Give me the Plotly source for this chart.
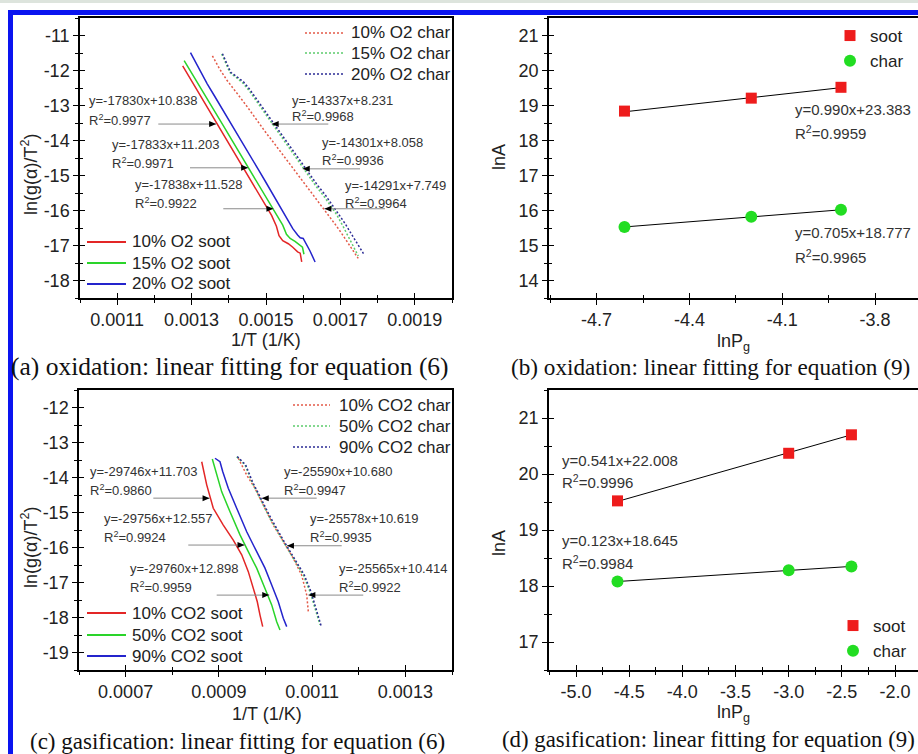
import plotly.graph_objects as go

W, H = 918, 754

# ---------------- (a) oxidation: ln(g(a)/T^2) vs 1/T ----------------
a_s10_x = [0.001276, 0.001290, 0.001305, 0.001322, 0.001340, 0.001360, 0.001380, 0.001400, 0.001420, 0.001440, 0.001460,
           0.001480, 0.001500, 0.001515, 0.001528, 0.001535, 0.001545, 0.001560, 0.001572, 0.001585, 0.001592, 0.001596]
a_s10_y = [-11.87, -12.12, -12.38, -12.70, -13.02, -13.38, -13.74, -14.10, -14.44, -14.80, -15.15,
           -15.50, -15.86, -16.14, -16.45, -16.72, -16.86, -16.95, -17.05, -17.18, -17.22, -17.47]
a_s15_x = [0.001280, 0.001295, 0.001312, 0.001330, 0.001350, 0.001370, 0.001390, 0.001410, 0.001430, 0.001450, 0.001470,
           0.001490, 0.001510, 0.001530, 0.001545, 0.001555, 0.001565, 0.001578, 0.001590, 0.001598, 0.001602]
a_s15_y = [-11.72, -11.98, -12.28, -12.60, -12.95, -13.30, -13.66, -14.02, -14.37, -14.72, -15.07,
           -15.42, -15.77, -16.12, -16.42, -16.68, -16.80, -16.88, -16.98, -17.05, -17.25]
a_s20_x = [0.001297, 0.001310, 0.001325, 0.001342, 0.001360, 0.001380, 0.001400, 0.001420, 0.001440, 0.001460, 0.001480,
           0.001500, 0.001520, 0.001540, 0.001558, 0.001572, 0.001585, 0.001592, 0.001600, 0.001608, 0.001618, 0.001632]
a_s20_y = [-11.49, -11.75, -12.05, -12.38, -12.70, -13.05, -13.41, -13.77, -14.12, -14.48, -14.84,
           -15.20, -15.56, -15.92, -16.25, -16.52, -16.70, -16.78, -16.80, -16.95, -17.15, -17.47]
a_c10_x = [0.001356, 0.001375, 0.001395, 0.001418, 0.001440, 0.001462, 0.001480, 0.001500, 0.001522, 0.001545, 0.001565,
           0.001585, 0.001605, 0.001625, 0.001645, 0.001665, 0.001685, 0.001705, 0.001722, 0.001738, 0.001748]
a_c10_y = [-11.58, -11.95, -12.28, -12.58, -12.90, -13.22, -13.50, -13.78, -14.08, -14.40, -14.70,
           -14.98, -15.25, -15.52, -15.80, -16.08, -16.38, -16.68, -16.95, -17.20, -17.37]
a_c15_x = [0.001381, 0.001392, 0.001403, 0.001420, 0.001438, 0.001455, 0.001472, 0.001490, 0.001508, 0.001525, 0.001545,
           0.001565, 0.001583, 0.001600, 0.001618, 0.001636, 0.001655, 0.001672, 0.001690, 0.001707, 0.001722, 0.001736, 0.001748]
a_c15_y = [-11.53, -11.80, -12.06, -12.20, -12.36, -12.58, -12.84, -13.10, -13.38, -13.66, -13.95,
           -14.25, -14.53, -14.81, -15.08, -15.33, -15.58, -15.85, -16.12, -16.45, -16.78, -17.05, -17.30]
a_c20_x = [0.001383, 0.001394, 0.001405, 0.001422, 0.001440, 0.001457, 0.001474, 0.001492, 0.001510, 0.001528, 0.001548,
           0.001568, 0.001586, 0.001603, 0.001621, 0.001640, 0.001659, 0.001677, 0.001695, 0.001713, 0.001730, 0.001746, 0.001762]
a_c20_y = [-11.52, -11.80, -12.05, -12.18, -12.33, -12.55, -12.80, -13.06, -13.34, -13.62, -13.92,
           -14.22, -14.50, -14.77, -15.04, -15.30, -15.55, -15.82, -16.08, -16.38, -16.68, -16.95, -17.23]
a_names = ["10% O2 soot", "15% O2 soot", "20% O2 soot", "10% O2 char", "15% O2 char", "20% O2 char"]
a_fits = [("y=-17830x+10.838", "R<sup>2</sup>=0.9977"), ("y=-17833x+11.203", "R<sup>2</sup>=0.9971"),
          ("y=-17838x+11.528", "R<sup>2</sup>=0.9922"), ("y=-14337x+8.231", "R<sup>2</sup>=0.9968"),
          ("y=-14301x+8.058", "R<sup>2</sup>=0.9936"), ("y=-14291x+7.749", "R<sup>2</sup>=0.9964")]
a_xticks = [0.0011, 0.0013, 0.0015, 0.0017, 0.0019]
a_xlabels = ["0.0011", "0.0013", "0.0015", "0.0017", "0.0019"]
a_yticks = [-11, -12, -13, -14, -15, -16, -17, -18]
a_ylabels = ["-11", "-12", "-13", "-14", "-15", "-16", "-17", "-18"]

# ---------------- (b) oxidation: lnA vs lnPg ----------------
b_x = [-4.61, -4.20, -3.91]
b_soot = [18.84, 19.21, 19.52]
b_char = [15.53, 15.82, 16.02]
b_soot_fit = [18.82, 19.51]
b_char_fit = [15.53, 16.02]
b_fits = [("y=0.990x+23.383", "R<sup>2</sup>=0.9959"), ("y=0.705x+18.777", "R<sup>2</sup>=0.9965")]
b_xticks = [-4.7, -4.4, -4.1, -3.8]
b_xlabels = ["-4.7", "-4.4", "-4.1", "-3.8"]
b_yticks = [14, 15, 16, 17, 18, 19, 20, 21]
b_ylabels = ["14", "15", "16", "17", "18", "19", "20", "21"]

# ---------------- (c) gasification: ln(g(a)/T^2) vs 1/T ----------------
c_s10_x = [0.0008632, 0.0008739, 0.0008880, 0.0009095, 0.0009309, 0.0009490, 0.0009631, 0.0009738, 0.0009824, 0.0009882, 0.0009940]
c_s10_y = [-13.55, -14.21, -14.88, -15.36, -15.79, -16.21, -16.69, -17.17, -17.55, -17.93, -18.26]
c_s50_x = [0.0008859, 0.0008953, 0.0009061, 0.0009239, 0.0009453, 0.0009631, 0.0009811, 0.0009989, 0.0010133, 0.0010240, 0.0010311]
c_s50_y = [-13.47, -13.93, -14.41, -14.98, -15.64, -16.12, -16.59, -17.17, -17.64, -18.12, -18.36]
c_s90_x = [0.0008917, 0.0009024, 0.0009082, 0.0009202, 0.0009382, 0.0009597, 0.0009811, 0.0009989, 0.0010133, 0.0010274, 0.0010382, 0.0010455]
c_s90_y = [-13.45, -13.55, -13.83, -14.31, -14.88, -15.55, -16.12, -16.59, -17.07, -17.55, -18.02, -18.26]
c_c10_x = [0.0009417, 0.0009597, 0.0009775, 0.0009953, 0.0010167, 0.0010382, 0.0010596, 0.0010776, 0.0010884, 0.0010918]
c_c10_y = [-13.45, -13.93, -14.31, -14.79, -15.36, -15.83, -16.31, -16.79, -17.36, -17.83]
c_c50_x = [0.0009382, 0.0009560, 0.0009704, 0.0009882, 0.0010097, 0.0010382, 0.0010596, 0.0010811, 0.0010954, 0.0011062, 0.0011169]
c_c50_y = [-13.41, -13.64, -14.12, -14.59, -15.17, -15.83, -16.31, -16.79, -17.26, -17.74, -18.21]
c_c90_x = [0.0009395, 0.0009575, 0.0009720, 0.0009900, 0.0010115, 0.0010400, 0.0010615, 0.0010830, 0.0010975, 0.0011085, 0.0011195]
c_c90_y = [-13.40, -13.64, -14.12, -14.59, -15.16, -15.83, -16.30, -16.78, -17.26, -17.73, -18.25]
c_names = ["10% CO2 soot", "50% CO2 soot", "90% CO2 soot", "10% CO2 char", "50% CO2 char", "90% CO2 char"]
c_fits = [("y=-29746x+11.703", "R<sup>2</sup>=0.9860"), ("y=-29756x+12.557", "R<sup>2</sup>=0.9924"),
          ("y=-29760x+12.898", "R<sup>2</sup>=0.9959"), ("y=-25590x+10.680", "R<sup>2</sup>=0.9947"),
          ("y=-25578x+10.619", "R<sup>2</sup>=0.9935"), ("y=-25565x+10.414", "R<sup>2</sup>=0.9922")]
c_xticks = [0.0007, 0.0009, 0.0011, 0.0013]
c_xlabels = ["0.0007", "0.0009", "0.0011", "0.0013"]
c_yticks = [-12, -13, -14, -15, -16, -17, -18, -19]
c_ylabels = ["-12", "-13", "-14", "-15", "-16", "-17", "-18", "-19"]

# ---------------- (d) gasification: lnA vs lnPg ----------------
d_x = [-4.61, -3.00, -2.41]
d_soot = [19.52, 20.37, 20.70]
d_char = [18.08, 18.28, 18.35]
d_soot_fit = [19.51, 20.70]
d_char_fit = [18.08, 18.35]
d_fits = [("y=0.541x+22.008", "R<sup>2</sup>=0.9996"), ("y=0.123x+18.645", "R<sup>2</sup>=0.9984")]
d_xticks = [-5.0, -4.5, -4.0, -3.5, -3.0, -2.5, -2.0]
d_xlabels = ["-5.0", "-4.5", "-4.0", "-3.5", "-3.0", "-2.5", "-2.0"]
d_yticks = [17, 18, 19, 20, 21]
d_ylabels = ["17", "18", "19", "20", "21"]

captions = ["(a) oxidation: linear fitting for equation (6)", "(b) oxidation: linear fitting for equation (9)",
            "(c) gasification: linear fitting for equation (6)", "(d) gasification: linear fitting for equation (9)"]

# ---------------- styling ----------------
SANS = "Liberation Sans, Arial, sans-serif"
SERIF = "Liberation Serif, Times New Roman, serif"
RED, GREEN, BLUE = "#e32626", "#2ad42a", "#2424cc"
RED_C, GREEN_C, BLUE_C = "#e35a48", "#5ccc6c", "#2d2d95"
DOT = "2px,2px"


def px(x):
    return x / W


def py(y):
    return 1 - y / H


fig = go.Figure()

# (a) curves
for xs, ys, col, dash in [(a_s10_x, a_s10_y, RED, "solid"), (a_s15_x, a_s15_y, GREEN, "solid"),
                          (a_s20_x, a_s20_y, BLUE, "solid"), (a_c10_x, a_c10_y, RED_C, DOT),
                          (a_c15_x, a_c15_y, GREEN_C, DOT), (a_c20_x, a_c20_y, BLUE_C, DOT)]:
    fig.add_trace(go.Scatter(x=xs, y=ys, mode="lines", line=dict(color=col, width=1.5, dash=dash),
                             xaxis="x", yaxis="y", showlegend=False))
# (c) curves
for xs, ys, col, dash in [(c_s10_x, c_s10_y, RED, "solid"), (c_s50_x, c_s50_y, GREEN, "solid"),
                          (c_s90_x, c_s90_y, BLUE, "solid"), (c_c10_x, c_c10_y, RED_C, DOT),
                          (c_c50_x, c_c50_y, GREEN_C, DOT), (c_c90_x, c_c90_y, BLUE_C, DOT)]:
    fig.add_trace(go.Scatter(x=xs, y=ys, mode="lines", line=dict(color=col, width=1.5, dash=dash),
                             xaxis="x3", yaxis="y3", showlegend=False))

# (b) and (d) points + fit lines
for xs, soot, char, sfit, cfit, xa, ya, leg in [(b_x, b_soot, b_char, b_soot_fit, b_char_fit, "x2", "y2", "legend"),
                                                (d_x, d_soot, d_char, d_soot_fit, d_char_fit, "x4", "y4", "legend2")]:
    fig.add_trace(go.Scatter(x=[xs[0], xs[-1]], y=sfit, mode="lines", line=dict(color="black", width=1),
                             xaxis=xa, yaxis=ya, showlegend=False))
    fig.add_trace(go.Scatter(x=[xs[0], xs[-1]], y=cfit, mode="lines", line=dict(color="black", width=1),
                             xaxis=xa, yaxis=ya, showlegend=False))
    fig.add_trace(go.Scatter(x=xs, y=soot, mode="markers", name="soot",
                             marker=dict(symbol="square", size=11, color="#ee1c1c", line=dict(width=0)),
                             xaxis=xa, yaxis=ya, legend=leg))
    fig.add_trace(go.Scatter(x=xs, y=char, mode="markers", name="char",
                             marker=dict(symbol="circle", size=12, color="#22dd22", line=dict(width=0)),
                             xaxis=xa, yaxis=ya, legend=leg))

# empty traces for the overlay (inner tick) axes
for n in range(5, 9):
    fig.add_trace(go.Scatter(x=[None], y=[None], xaxis=f"x{n}", yaxis=f"y{n}", showlegend=False, hoverinfo="skip"))

tickfont = dict(family=SANS, size=18, color="#222")


def set_axes(n, xdom, ydom, xr, yr, xt, xl, yt, yl, xminor, yminor, ymirror):
    ref = "" if n == 1 else str(n)
    base = dict(showgrid=False, zeroline=False, tickcolor="black", tickwidth=1.3, ticklen=5, tickmode="array")
    mx = dict(ticks="outside", ticklen=3, tickwidth=1.1, tickcolor="black", tickmode="linear",
              tick0=xminor[0], dtick=xminor[1])
    my = dict(ticks="outside", ticklen=3, tickwidth=1.1, tickcolor="black", tickmode="linear",
              tick0=yminor[0], dtick=yminor[1])
    fig.layout[f"xaxis{n}"] = dict(base, domain=xdom, range=xr, anchor=f"y{ref}", showline=True, linecolor="black",
                                   linewidth=1.5, mirror=True, ticks="outside", tickvals=xt, ticktext=xl,
                                   tickfont=tickfont, minor=mx)
    fig.layout[f"yaxis{n}"] = dict(base, domain=ydom, range=yr, anchor=f"x{ref}", showline=True, linecolor="black",
                                   linewidth=1.5, mirror=ymirror, ticks="outside", tickvals=yt, ticktext=yl,
                                   tickfont=tickfont, minor=my)
    m = n + 4
    fig.layout[f"xaxis{m}"] = dict(base, domain=xdom, range=xr, anchor=f"y{m}", overlaying=f"x{ref}",
                                   showline=False, ticks="inside", tickvals=xt, showticklabels=False,
                                   minor=dict(mx, ticks="inside"))
    fig.layout[f"yaxis{m}"] = dict(base, domain=ydom, range=yr, anchor=f"x{m}", overlaying=f"y{ref}",
                                   showline=False, ticks="inside", tickvals=yt, showticklabels=False,
                                   minor=dict(my, ticks="inside"))


top_y = [py(298), py(18)]
bot_y = [py(670), py(390)]
left_x = [px(80), px(452)]
right_x = [px(549), 1.0]

set_axes(1, left_x, top_y, [0.001, 0.002], [-18.5, -10.5], a_xticks, a_xlabels, a_yticks, a_ylabels,
         (0.001, 0.0001), (-11, 0.5), True)
set_axes(2, right_x, top_y, [-4.854, -3.661], [13.5, 21.5], b_xticks, b_xlabels, b_yticks, b_ylabels,
         (-4.7, 0.15), (14, 0.5), False)
set_axes(3, [px(79), px(452)], bot_y, [0.0006, 0.0014], [-19.5, -11.5], c_xticks, c_xlabels, c_yticks, c_ylabels,
         (0.0006, 0.0001), (-12, 0.5), True)
set_axes(4, right_x, bot_y, [-5.254, -1.784], [16.5, 21.5], d_xticks, d_xlabels, d_yticks, d_ylabels,
         (-5.0, 0.25), (17, 0.5), False)

ann = []
shapes = []


def text(x, y, s, xref="paper", yref="paper", size=13, family=SANS, xanchor="left", angle=0, color="#333"):
    ann.append(dict(x=x, y=y, xref=xref, yref=yref, text=s, showarrow=False, xanchor=xanchor, yanchor="middle",
                    textangle=angle, font=dict(family=family, size=size, color=color)))


def arrow(tail_x, head_x, y, xa, ya):
    shapes.append(dict(type="line", xref=xa, yref=ya, x0=tail_x, x1=head_x, y0=y, y1=y,
                       line=dict(color="#8a8a8a", width=1)))
    head = "M0,0 L-7,3 L-7,-3 Z" if tail_x < head_x else "M0,0 L7,3 L7,-3 Z"
    shapes.append(dict(type="path", xref=xa, yref=ya, xsizemode="pixel", ysizemode="pixel",
                       xanchor=head_x, yanchor=y, path=head, fillcolor="black", line=dict(width=0)))


# (a) fit annotations
a_text_pos = [(0.0010180, -12.87, -13.41), (0.0010806, -14.10, -14.65), (0.0011433, -15.26, -15.79),
              (0.0015645, -12.85, -13.29), (0.0016452, -14.05, -14.57), (0.0017078, -15.29, -15.79)]
for (l1, l2), (x, y1, y2) in zip(a_fits, a_text_pos):
    text(x, y1, l1, "x", "y")
    text(x, y2, l2, "x", "y")
for tx, hx, y in [(0.0012105, 0.001366, -13.53), (0.0012957, 0.001452, -14.78), (0.0013852, 0.001520, -15.95),
                  (0.0016675, 0.0015153, -13.53), (0.0017527, 0.0015987, -14.81), (0.0018199, 0.0016570, -15.95)]:
    arrow(tx, hx, y, "x", "y")

# (c) fit annotations
c_text_pos = [(0.0006193, -13.83, -14.36), (0.0006487, -15.17, -15.71), (0.0007057, -16.61, -17.14),
              (0.0010347, -13.83, -14.36), (0.0010918, -15.17, -15.71), (0.0011527, -16.61, -17.14)]
for (l1, l2), (x, y1, y2) in zip(c_fits, c_text_pos):
    text(x, y1, l1, "x3", "y3")
    text(x, y2, l2, "x3", "y3")
for tx, hx, y in [(0.0007594, 0.000880, -14.59), (0.0008344, 0.000955, -15.93), (0.0008953, 0.001008, -17.36),
                  (0.0011098, 0.000992, -14.59), (0.0011634, 0.001046, -15.95), (0.0012097, 0.001092, -17.36)]:
    arrow(tx, hx, y, "x3", "y3")

# (b), (d) fit annotations
for (l1, l2), (x, y1, y2) in zip(b_fits, [(-4.064, 18.89, 18.22), (-4.064, 15.37, 14.70)]):
    text(x, y1, l1, "x2", "y2", size=15)
    text(x, y2, l2, "x2", "y2", size=15)
for (l1, l2), (x, y1, y2) in zip(d_fits, [(-5.151, 20.25, 19.86), (-5.151, 18.81, 18.42)]):
    text(x, y1, l1, "x4", "y4", size=15)
    text(x, y2, l2, "x4", "y4", size=15)

# manual legends for (a) and (c)
legend_specs = [
    (a_names[3:], [RED_C, GREEN_C, BLUE_C], DOT, 305, 343, 349, [33, 53, 74]),
    (a_names[:3], [RED, GREEN, BLUE], "solid", 87, 126, 130, [242, 263, 284]),
    (c_names[3:], [RED_C, GREEN_C, BLUE_C], DOT, 293, 330, 337, [405, 426, 447]),
    (c_names[:3], [RED, GREEN, BLUE], "solid", 87, 126, 130, [613, 635, 656]),
]
for names, cols, dash, x0, x1, xt, ys in legend_specs:
    for nm, col, yy in zip(names, cols, ys):
        shapes.append(dict(type="line", xref="paper", yref="paper", x0=px(x0), x1=px(x1), y0=py(yy), y1=py(yy),
                           line=dict(color=col, width=2 if dash == "solid" else 1.5, dash=dash)))
        text(px(xt), py(yy), nm, size=17, color="#222")

# axis titles
text(px(266), py(340), "1/T (1/K)", size=18, xanchor="center", color="#222")
text(px(29), py(175), "ln(g(α)/T<sup>2</sup>)", size=18, xanchor="center", angle=-90, color="#222")
text(px(733), py(342), "lnP<sub>g</sub>", size=18, xanchor="center", color="#222")
text(px(499), py(157), "lnA", size=18, xanchor="center", angle=-90, color="#222")
text(px(267), py(714), "1/T (1/K)", size=18, xanchor="center", color="#222")
text(px(29), py(548), "ln(g(α)/T<sup>2</sup>)", size=18, xanchor="center", angle=-90, color="#222")
text(px(733), py(713), "lnP<sub>g</sub>", size=18, xanchor="center", color="#222")
text(px(499), py(543), "lnA", size=18, xanchor="center", angle=-90, color="#222")

# captions
for cap, (cx, cy), fs in zip(captions, [(230, 366), (710, 367), (237, 741), (708, 739)], [25.5, 23.2, 23, 22.8]):
    text(px(cx), py(cy), cap, size=fs, family=SERIF, xanchor="center", color="#111")

# page frame (blue border and top strip)
shapes.append(dict(type="rect", xref="paper", yref="paper", x0=0, x1=1, y0=py(3), y1=1,
                   fillcolor="#dde4dd", line=dict(width=0), layer="below"))
shapes.append(dict(type="rect", xref="paper", yref="paper", x0=px(8), x1=1, y0=py(15), y1=py(10),
                   fillcolor="#0a14f0", line=dict(width=0)))
shapes.append(dict(type="rect", xref="paper", yref="paper", x0=px(8), x1=px(13), y0=0, y1=py(10),
                   fillcolor="#0a14f0", line=dict(width=0)))

legend_common = dict(bgcolor="rgba(0,0,0,0)", borderwidth=0, xanchor="left", yanchor="top",
                     font=dict(family=SANS, size=17, color="#222"), tracegroupgap=0, itemclick=False)

fig.update_layout(
    width=W, height=H, margin=dict(l=0, r=0, t=0, b=0),
    paper_bgcolor="white", plot_bgcolor="white",
    annotations=ann, shapes=shapes,
    legend=dict(legend_common, x=px(830), y=py(18)),
    legend2=dict(legend_common, x=px(833), y=py(608)),
)

fig.write_html("out.html", config={"displayModeBar": False},
               post_script="document.body.style.margin='0px';")
